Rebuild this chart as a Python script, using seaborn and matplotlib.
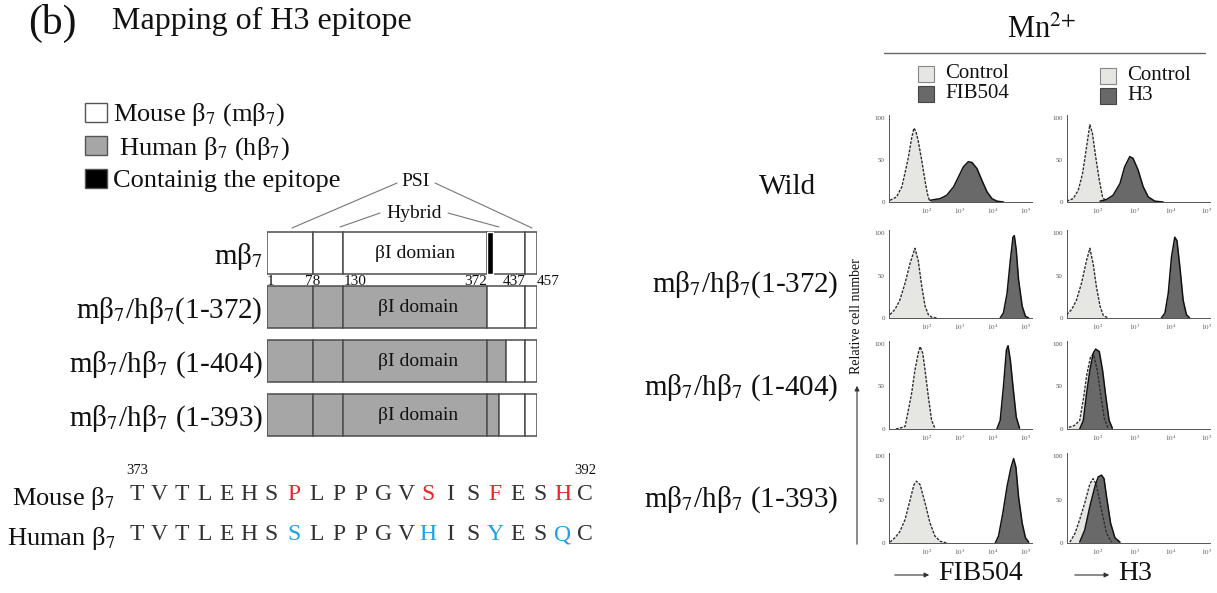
import numpy as np
import pandas as pd
import matplotlib
matplotlib.use('Agg')
import matplotlib.pyplot as plt
import seaborn as sns
from matplotlib.patches import Rectangle

# ---- schematic data ----
constructs = ['mβ$_7$', 'mβ$_7$/hβ$_7$(1-372)', 'mβ$_7$/hβ$_7$ (1-404)', 'mβ$_7$/hβ$_7$ (1-393)']
human_end = [0, 372, 404, 393]          # last residue taken from human beta7
domain_bounds = [1, 78, 130, 372, 437, 457]
bound_ha = ['left', 'center', 'left', 'right', 'right', 'left']
epitope = (372, 382)
domain_text = ['βI domian', 'βI domain', 'βI domain', 'βI domain']

# ---- sequence alignment ----
mouse_seq = 'TVTLEHSPLPPGVSISFESHC'
human_seq = 'TVTLEHSSLPPGVHISYESQC'
seq_labels = ['Mouse β$_7$', 'Human β$_7$']
seq_first, seq_last = 373, 392

# ---- flow cytometry histograms (log10 fluorescence, relative cell number) ----
wt_fib_ctrl = [(0.87, 2), (1.07, 6), (1.23, 18), (1.33, 35), (1.43, 53), (1.53, 76), (1.60, 88),
               (1.66, 84), (1.73, 73), (1.84, 49), (1.94, 25), (2.01, 10), (2.07, 2)]
wt_fib_ab = [(2.09, 2), (2.40, 4), (2.60, 8), (2.81, 18), (2.96, 30), (3.11, 42), (3.26, 48),
             (3.37, 47), (3.52, 40), (3.67, 26), (3.83, 12), (3.98, 4), (4.13, 1), (4.33, 0)]
wt_h3_ctrl = [(1.14, 1), (1.32, 4), (1.46, 14), (1.58, 34), (1.69, 66), (1.78, 92), (1.85, 82),
              (1.94, 54), (2.04, 26), (2.13, 6), (2.22, 1)]
wt_h3_ab = [(2.06, 1), (2.24, 3), (2.42, 8), (2.61, 22), (2.74, 42), (2.88, 54), (2.97, 52),
            (3.11, 38), (3.25, 18), (3.39, 6), (3.57, 1), (3.80, 0)]
c372_fib_ctrl = [(0.87, 4), (1.02, 10), (1.17, 21), (1.33, 41), (1.48, 64), (1.58, 76), (1.63, 82),
                 (1.73, 68), (1.84, 37), (1.94, 14), (2.04, 4), (2.14, 1), (2.30, 0)]
c372_fib_ab = [(4.23, 0), (4.33, 6), (4.44, 29), (4.54, 68), (4.62, 95), (4.66, 97), (4.72, 80),
               (4.79, 45), (4.90, 14), (5.00, 2), (5.10, 0)]
c372_h3_ctrl = [(1.14, 4), (1.28, 10), (1.41, 21), (1.55, 41), (1.69, 68), (1.78, 82), (1.87, 64),
                (1.96, 37), (2.06, 14), (2.15, 3), (2.28, 0)]
c372_h3_ab = [(3.75, 0), (3.85, 6), (3.94, 29), (4.03, 72), (4.12, 95), (4.18, 91), (4.26, 60),
              (4.35, 21), (4.44, 4), (4.53, 0)]
c404_fib_ctrl = [(1.05, 0), (1.17, 1), (1.33, 3), (1.43, 22), (1.53, 42), (1.63, 69), (1.73, 89),
                 (1.79, 97), (1.87, 89), (1.94, 69), (2.04, 38), (2.14, 10), (2.24, 1)]
c404_fib_ab = [(4.13, 0), (4.23, 10), (4.33, 50), (4.42, 93), (4.47, 98), (4.54, 81), (4.62, 50),
               (4.72, 14), (4.82, 1)]
c404_h3_ctrl = [(1.20, 2), (1.35, 4), (1.50, 10), (1.60, 35), (1.70, 65), (1.80, 85), (1.88, 88),
                (1.98, 70), (2.08, 40), (2.18, 12), (2.28, 1)]
c404_h3_ab = [(1.50, 0), (1.60, 10), (1.69, 42), (1.78, 69), (1.87, 89), (1.94, 94), (2.04, 91),
              (2.13, 69), (2.22, 38), (2.31, 10), (2.40, 1)]
c393_fib_ctrl = [(0.87, 1), (1.02, 6), (1.17, 13), (1.33, 27), (1.48, 49), (1.60, 67), (1.68, 71),
                 (1.79, 67), (1.94, 46), (2.09, 23), (2.24, 8), (2.40, 2), (2.60, 0)]
c393_fib_ab = [(4.08, 0), (4.18, 8), (4.31, 34), (4.44, 65), (4.56, 87), (4.64, 97), (4.71, 87),
               (4.79, 53), (4.90, 23), (5.00, 6), (5.10, 1)]
c393_h3_ctrl = [(1.23, 1), (1.37, 11), (1.50, 27), (1.64, 46), (1.78, 68), (1.87, 74), (1.96, 67),
                (2.10, 38), (2.24, 11), (2.38, 1)]
c393_h3_ab = [(1.50, 1), (1.64, 15), (1.78, 42), (1.92, 65), (2.01, 76), (2.10, 78), (2.17, 74),
              (2.24, 53), (2.35, 23), (2.47, 6), (2.61, 1)]

row_names = ['Wild', 'mβ$_7$/hβ$_7$(1-372)', 'mβ$_7$/hβ$_7$ (1-404)', 'mβ$_7$/hβ$_7$ (1-393)']
antibodies = ['FIB504', 'H3']
hist_data = [[(wt_fib_ctrl, wt_fib_ab), (wt_h3_ctrl, wt_h3_ab)],
             [(c372_fib_ctrl, c372_fib_ab), (c372_h3_ctrl, c372_h3_ab)],
             [(c404_fib_ctrl, c404_fib_ab), (c404_h3_ctrl, c404_h3_ab)],
             [(c393_fib_ctrl, c393_fib_ab), (c393_h3_ctrl, c393_h3_ab)]]
decades = [2, 3, 4, 5]

# ---- style ----
sns.set_style('white')
plt.rcParams['font.family'] = ['Liberation Serif', 'DejaVu Serif']
plt.rcParams['mathtext.fontset'] = 'stix'

W, H = 1217, 593
fig = plt.figure(figsize=(W / 100, H / 100), dpi=100)


def px_axes(x0, y0, x1, y1):
    """axes placed by pixel box (y measured from top)"""
    return fig.add_axes([x0 / W, 1 - y1 / H, (x1 - x0) / W, (y1 - y0) / H])


# overlay for free text and annotation lines
ov = px_axes(0, 0, W, H)
ov.set_xlim(0, W)
ov.set_ylim(H, 0)
ov.axis('off')

txt = '#111111'
ov.text(28, 34, '(b)', fontsize=30, color=txt, va='baseline')
ov.text(112, 29, 'Mapping of H3 epitope', fontsize=23, color=txt, va='baseline')

# legend of schematic
leg = [('Mouse β$_7$ (mβ$_7$)', 'white', 113, 103, 121),
       ('Human β$_7$ (hβ$_7$)', '#a6a6a6', 119, 136, 155),
       ('Containig the epitope', 'black', 113, 169, 187)]
for lab, col, tx, sy, base in leg:
    ov.add_patch(Rectangle((85, sy), 22, 19, facecolor=col, edgecolor='#555555', lw=1))
    ov.text(tx, base, lab, fontsize=19, color=txt, va='baseline')

# PSI / Hybrid brackets
lc = '#777777'
ov.plot([292, 397], [228, 183], color=lc, lw=0.8)
ov.plot([435, 532], [183, 228], color=lc, lw=0.8)
ov.text(416, 182, 'PSI', fontsize=14, ha='center', va='center', color=txt)
ov.plot([340, 380], [227, 213], color=lc, lw=0.8)
ov.plot([448, 499], [213, 227], color=lc, lw=0.8)
ov.text(414, 213, 'Hybrid', fontsize=14, ha='center', va='center', color=txt)

# ---- schematic of chimeras ----
sc = px_axes(267, 226, 537, 442)
for i in range(len(constructs)):
    he = human_end[i]
    for a, b in zip(domain_bounds[:-1], domain_bounds[1:]):
        if he > a:
            sc.barh(i, min(b, he) - a, left=a, height=0.78, color='#a6a6a6',
                    edgecolor='#4d4d4d', lw=1.1)
        if b > he:
            lo = max(a, he)
            sc.barh(i, b - lo, left=lo, height=0.78, color='white',
                    edgecolor='#4d4d4d', lw=1.1)
    sc.text((domain_bounds[2] + domain_bounds[3]) / 2 + (5 if i else 0), i, domain_text[i],
            fontsize=14, ha='center', va='center', color=txt)
sc.barh(0, epitope[1] - epitope[0], left=epitope[0], height=0.78, color='black')
for b, ha in zip(domain_bounds, bound_ha):
    sc.text(b, 0.53, str(b), fontsize=11, ha=ha, va='center', color=txt)
sc.set_xlim(domain_bounds[0], domain_bounds[-1])
sc.set_ylim(3.5, -0.5)
sc.set_yticks(range(len(constructs)))
sc.set_yticklabels(constructs, fontsize=21, color=txt)
sc.tick_params(axis='y', length=0, pad=3)
sc.set_xticks([])
sns.despine(ax=sc, left=True, bottom=True)
sc.patch.set_alpha(0)

# ---- sequence comparison ----
sq = px_axes(126, 475, 596, 555)
for i, (m, h) in enumerate(zip(mouse_seq, human_seq)):
    diff = m != h
    sq.text(i, 0, m, fontsize=17, ha='center', va='center',
            color='#e8262a' if diff else '#333333')
    sq.text(i, 1, h, fontsize=17, ha='center', va='center',
            color='#1aa3e6' if diff else '#333333')
sq.text(0, -0.6, str(seq_first), fontsize=10.5, ha='center', va='center', color=txt)
sq.text(len(mouse_seq) - 1, -0.6, str(seq_last), fontsize=10.5, ha='center', va='center', color=txt)
sq.set_xlim(-0.5, len(mouse_seq) - 0.5)
sq.set_ylim(1.5, -0.5)
sq.set_yticks([0, 1])
sq.set_yticklabels(seq_labels, fontsize=19, color=txt)
sq.tick_params(axis='y', length=0, pad=8)
sq.set_xticks([])
sns.despine(ax=sq, left=True, bottom=True)
sq.patch.set_alpha(0)

# ---- right panel headers ----
ov.text(1042, 30, 'Mn$^{2{+}}$', fontsize=22, ha='center', va='center', color=txt)
ov.plot([884, 1205], [53, 53], color='#666666', lw=1)
light, dark = '#e6e6e2', '#696969'
for sx, tx, ab, y1 in [(918, 945, antibodies[0], 66), (1100, 1127, antibodies[1], 68)]:
    ov.add_patch(Rectangle((sx, y1), 16, 16, facecolor=light, edgecolor='#888888', lw=0.8))
    ov.add_patch(Rectangle((sx, y1 + 20), 16, 16, facecolor=dark, edgecolor='#444444', lw=0.8))
    ov.text(tx, y1 + 8, 'Control', fontsize=15, va='center', color=txt)
    ov.text(tx, y1 + 28, ab, fontsize=15, va='center', color=txt)

row_y = [187, 285, 388, 500]
ov.text(788, row_y[0], row_names[0], fontsize=21, ha='center', va='center', color=txt)
for name, y in zip(row_names[1:], row_y[1:]):
    ov.text(838, y, name, fontsize=21, ha='right', va='center', color=txt)

ov.text(857, 316, 'Relative cell number', fontsize=10, rotation=90,
        ha='center', va='center', color=txt)
ov.annotate('', xy=(857, 383), xytext=(857, 547),
            arrowprops=dict(arrowstyle='-|>', lw=0.8, color='#333333', mutation_scale=7))
for x0, x1, lab in [(892, 932, antibodies[0]), (1072, 1112, antibodies[1])]:
    ov.annotate('', xy=(x1, 575), xytext=(x0, 575),
                arrowprops=dict(arrowstyle='-|>', lw=0.8, color='#333333', mutation_scale=7))
    ov.text(x1 + 6, 574, lab, fontsize=20, va='center', color=txt)

# ---- histograms ----
row_px = [(202, 118), (318, 233), (429, 344), (543, 456)]
col_px = [(889, 1032, 0.84, 5.2), (1067, 1210, 1.15, 5.09)]
minor = [np.log10(k * 10.0 ** n) for n in range(0, 6) for k in range(2, 10)]

for r, (y0, y100) in enumerate(row_px):
    for c, (xl, xr, lo, hi) in enumerate(col_px):
        ax = px_axes(xl, y0 - 1.04 * (y0 - y100), xr, y0)
        ctrl = pd.DataFrame(hist_data[r][c][0], columns=['logF', 'count'])
        ab = pd.DataFrame(hist_data[r][c][1], columns=['logF', 'count'])
        ax.fill_between(ctrl['logF'], ctrl['count'], color=light, lw=0, zorder=1)
        ax.fill_between(ab['logF'], ab['count'], color=dark, lw=0, zorder=2)
        sns.lineplot(data=ctrl, x='logF', y='count', ax=ax, color='#2e2e2e',
                     lw=1.0, zorder=3)
        ax.lines[-1].set_dashes([2, 1])
        sns.lineplot(data=ab, x='logF', y='count', ax=ax, color='#111111', lw=1.1, zorder=4)
        ax.set_xlim(lo, hi)
        ax.set_ylim(0, 104)
        ax.set_xticks(decades)
        ax.set_xticklabels(['$10^{%d}$' % d for d in decades])
        ax.set_xticks([m for m in minor if lo < m < hi], minor=True)
        ax.set_yticks([0, 50, 100])
        ax.set_yticklabels(['0', '50', '100'])
        ax.tick_params(labelsize=5, length=2, width=0.6, pad=1, colors='#555555',
                       direction='out')
        ax.tick_params(which='minor', length=1.2, width=0.5, colors='#777777')
        ax.set_xlabel('')
        ax.set_ylabel('')
        sns.despine(ax=ax)
        for s in ['left', 'bottom']:
            ax.spines[s].set_color('#555555')
            ax.spines[s].set_linewidth(0.7)
        ax.patch.set_alpha(0)

fig.savefig('out.png', dpi=100)
